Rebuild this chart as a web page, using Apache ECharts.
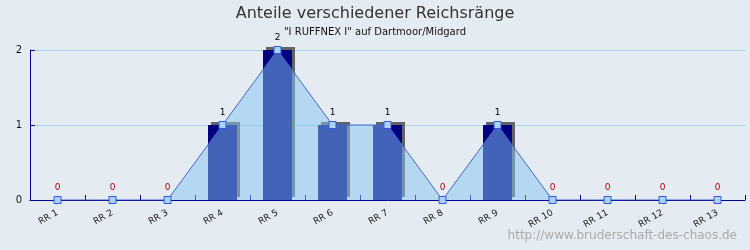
<!DOCTYPE html>
<html><head><meta charset="utf-8">
<script src="https://cdn.jsdelivr.net/npm/echarts@6/dist/echarts.min.js"></script>
<style>html,body{margin:0;padding:0;background:#e5ebf2}#c{width:750px;height:250px}</style>
</head><body><div id="c"></div>
<script>
const categories = ['RR 1','RR 2','RR 3','RR 4','RR 5','RR 6','RR 7','RR 8','RR 9','RR 10','RR 11','RR 12','RR 13'];
const values = [0,0,0,1,2,1,1,0,1,0,0,0,0];
const yTicks = [0,1,2];
const titleText = 'Anteile verschiedener Reichsränge';
const subtitleText = '"I RUFFNEX I" auf Dartmoor/Midgard';
const footerText = 'http://www.bruderschaft-des-chaos.de';

const chart = echarts.init(document.getElementById('c'), null, {renderer:'canvas'});
const font = 'DejaVu Sans';
chart.setOption({
  backgroundColor:'#e5ebf2',
  animation:false,
  textStyle:{fontFamily:font},
  title:[
    {text:titleText, left:'center', top:1, textStyle:{fontFamily:font, fontSize:16, fontWeight:'normal', color:'#333'}},
    {text:subtitleText, left:'center', top:22, textStyle:{fontFamily:font, fontSize:10, fontWeight:'normal', color:'#111'}},
    {text:footerText, right:8, bottom:3, textStyle:{fontFamily:font, fontSize:12, fontWeight:'normal', color:'#aaaaaa'}}
  ],
  grid:{left:30, right:5, top:50, bottom:50, containLabel:false},
  xAxis:{
    type:'category', data:categories, boundaryGap:true,
    axisLine:{lineStyle:{color:'#000099', width:1}},
    axisTick:{show:true, inside:true, length:5, alignWithLabel:false, lineStyle:{color:'#000099'}},
    axisLabel:{rotate:30, fontSize:9, color:'#222', margin:12, fontFamily:font, interval:0},
    splitLine:{show:false}
  },
  yAxis:{
    type:'value', min:yTicks[0], max:yTicks[yTicks.length-1], interval:1,
    axisLine:{show:true, lineStyle:{color:'#000099'}},
    axisTick:{show:true, inside:true, length:5, lineStyle:{color:'#000099'}},
    axisLabel:{fontSize:10, color:'#111', margin:8, fontFamily:font},
    splitLine:{show:true, lineStyle:{color:'#a8d8e8', width:1}}
  },
  series:[
    {
      type:'bar', data:values, barWidth:29, z:2,
      itemStyle:{color:'#000080', shadowColor:'#646464', shadowBlur:0, shadowOffsetX:3, shadowOffsetY:-3}
    },
    {
      type:'line', z:5,
      data: values.map(v=>({value:v, label:{color: v===0 ? '#b00000' : '#000'}})),
      symbol:'rect', symbolSize:7,
      lineStyle:{color:'#4466cc', width:1},
      itemStyle:{color:'#a8d4f0', borderColor:'#3355ee', borderWidth:1},
      areaStyle:{color:'rgba(132,198,240,0.5)', opacity:1, origin:'start'},
      label:{show:true, position:'top', distance:4, fontSize:9, fontFamily:font}
    }
  ]
});
</script></body></html>
